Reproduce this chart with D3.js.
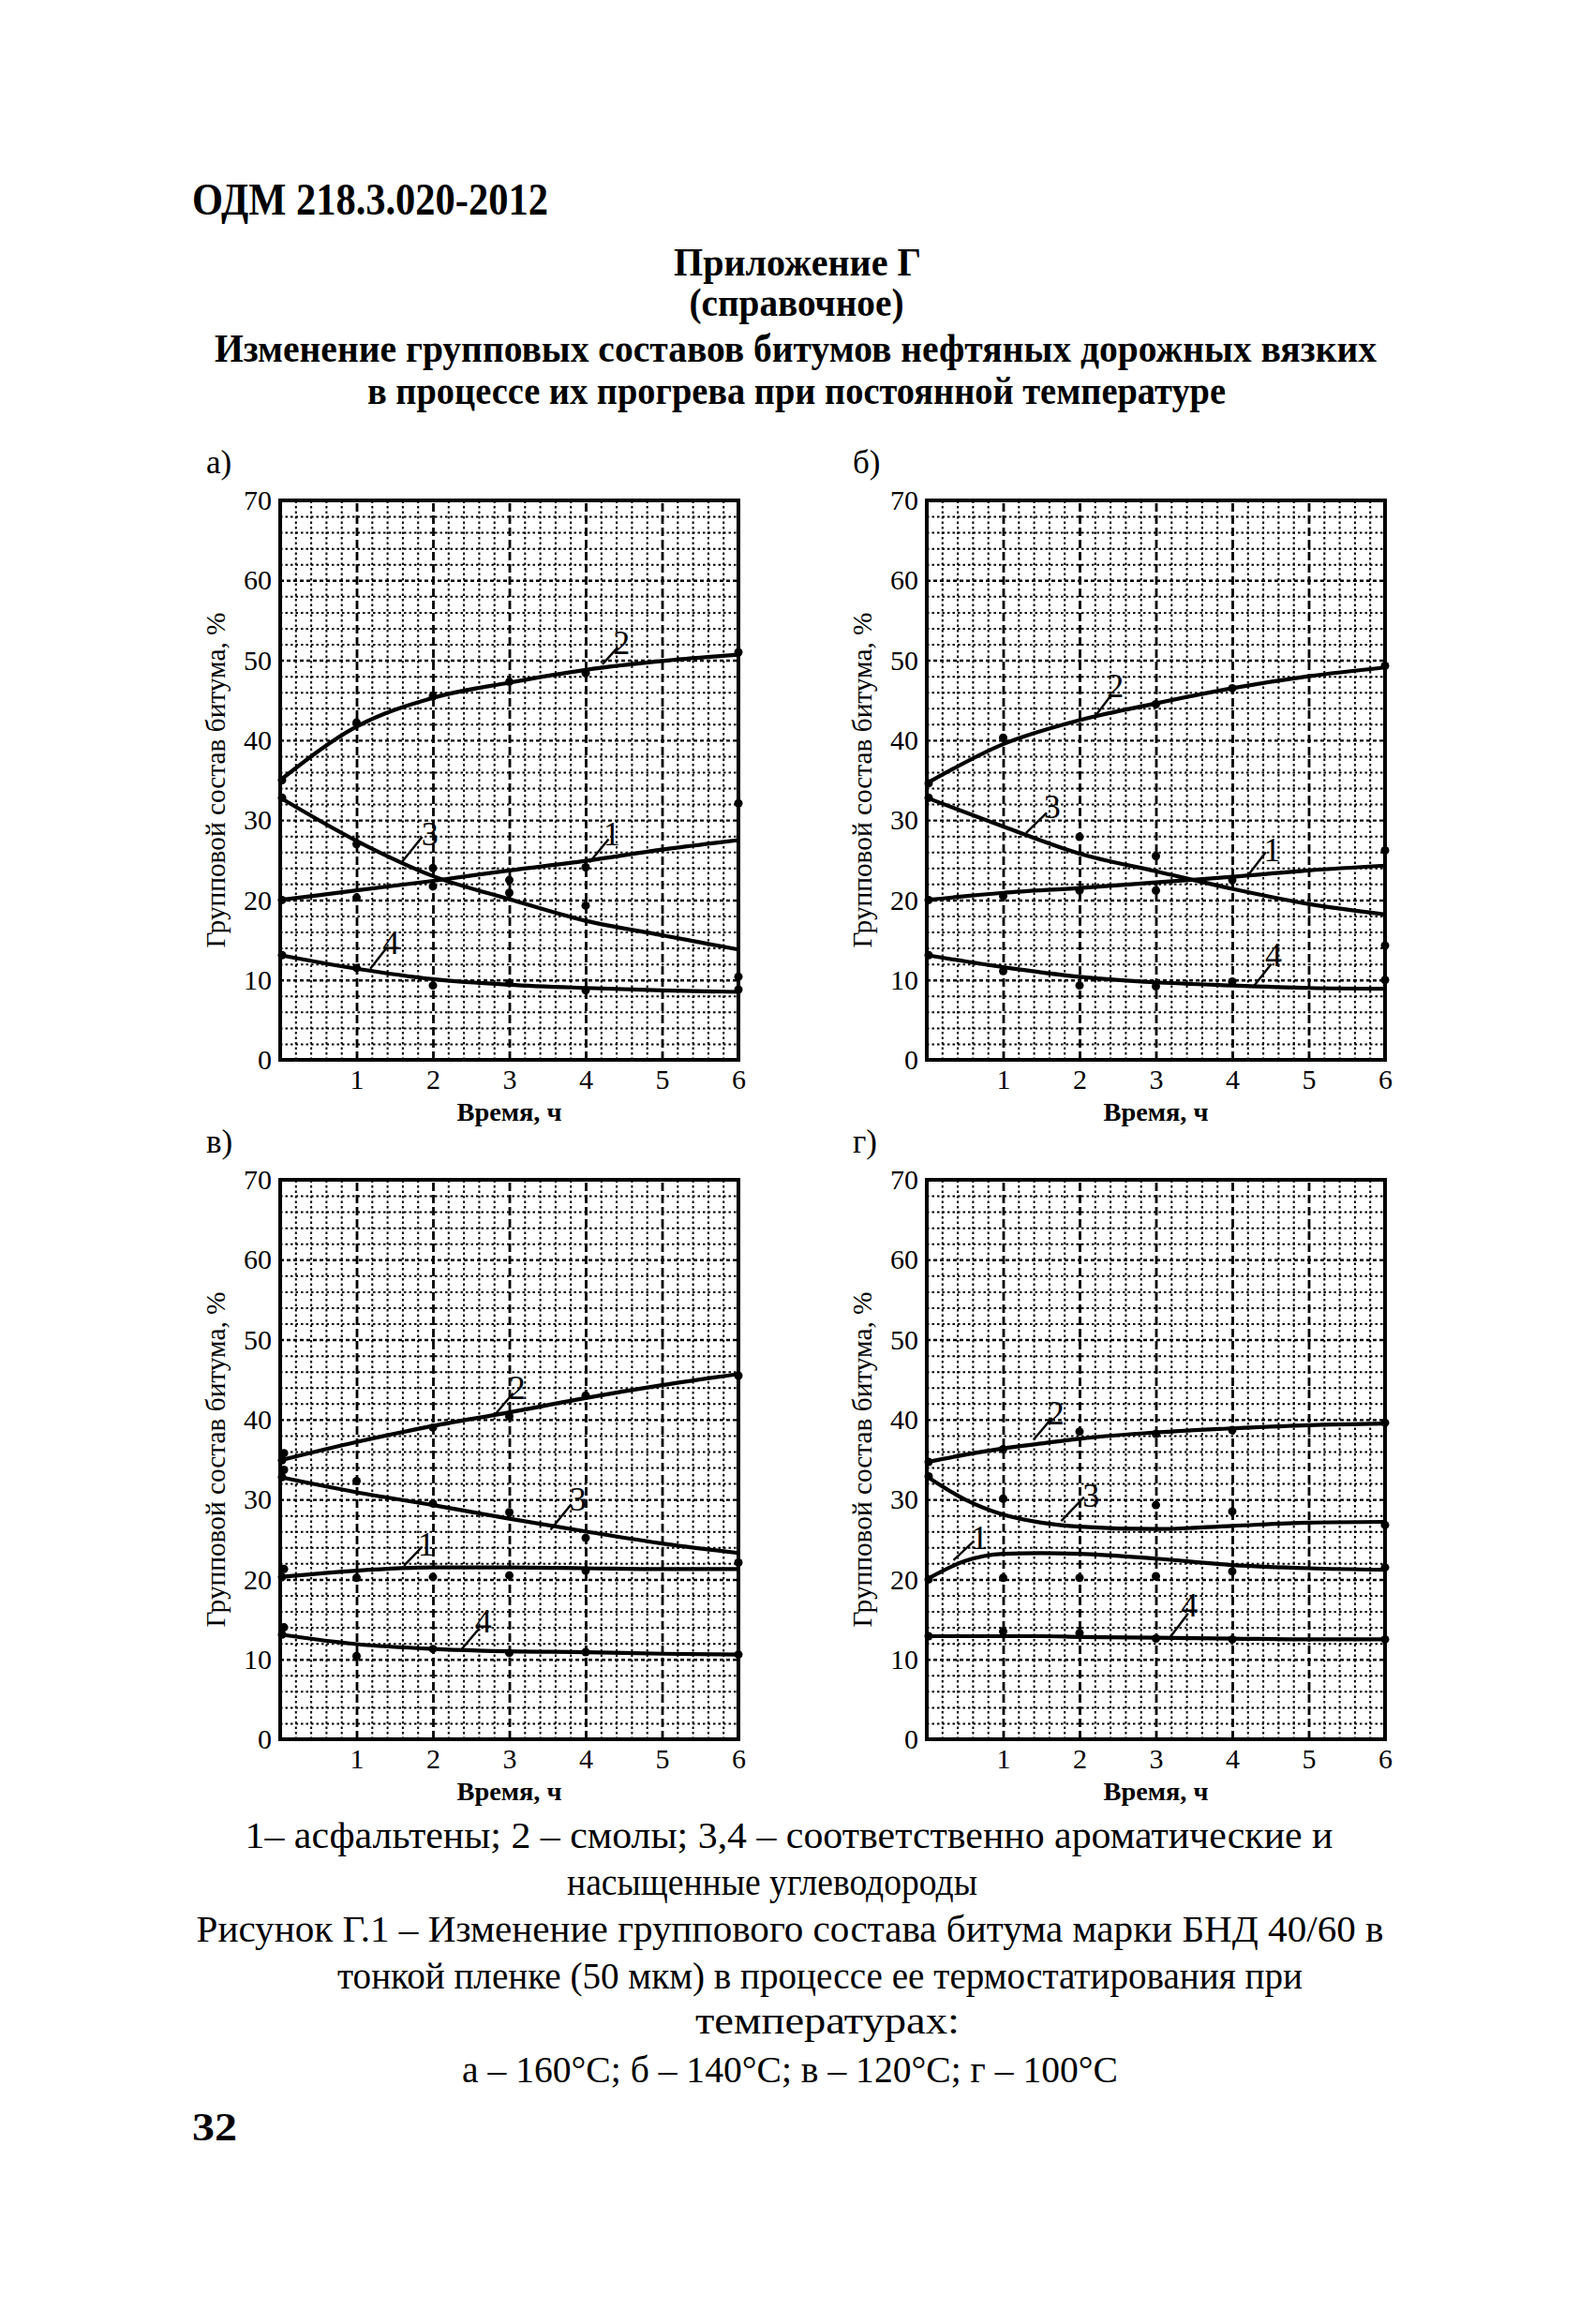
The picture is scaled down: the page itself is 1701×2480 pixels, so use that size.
<!DOCTYPE html>
<html>
<head>
<meta charset="utf-8">
<script src="https://cdn.jsdelivr.net/npm/d3@7/dist/d3.min.js"></script>
<style>
  body { margin: 0; background: #fff; }
  svg { display: block; }
  text { font-family: "Liberation Serif", "DejaVu Serif", serif; fill: #000; }
</style>
</head>
<body>
<svg id="page"></svg>
<script>
// ---- data ----
const hours = [0, 1, 2, 3, 4, 5, 6];
const hoursG = [0, 0.5, 1, 1.5, 2, 3, 4, 5, 6];
const yTicks = [0, 10, 20, 30, 40, 50, 60, 70];
const xTicks = [1, 2, 3, 4, 5, 6];

// a) 160°C
const a1 = [20.0, 21.2, 22.4, 23.7, 24.9, 26.3, 27.5];
const a2 = [35.0, 41.7, 45.3, 47.2, 48.8, 49.9, 50.7];
const a3 = [32.8, 27.4, 23.0, 20.1, 17.4, 15.6, 13.8];
const a4 = [13.1, 11.4, 10.1, 9.4, 9.0, 8.7, 8.5];
const aPts = [[1, 42.2], [1, 27], [1, 20.3], [1, 11.5], [2, 45.5], [2, 24], [2, 21.7], [2, 9.3],
  [3, 47.3], [3, 22.5], [3, 20.9], [3, 9.6], [4, 48.4], [4, 24.1], [4, 19.3], [4, 8.7],
  [6, 51], [6, 32.1], [6, 10.4], [6, 8.8]];
const aLabels = [["2", 4.47, 52.2, 4.22, 49.5, 4.42, 51.6], ["3", 1.96, 28.2, 1.59, 24.7, 1.86, 27.9],
  ["1", 4.34, 28.2, 4.05, 24.7, 4.30, 27.6], ["4", 1.45, 14.7, 1.18, 11.4, 1.40, 14.1]];

// б) 140°C
const b1 = [20.0, 20.9, 21.5, 22.2, 22.9, 23.7, 24.3];
const b2 = [34.6, 39.5, 42.5, 44.6, 46.5, 48.0, 49.1];
const b3 = [32.8, 29.2, 25.8, 23.6, 21.4, 19.5, 18.2];
const b4 = [13.1, 11.6, 10.4, 9.7, 9.3, 9.0, 8.9];
const bPts = [[1, 40.3], [1, 20.5], [1, 11.1], [2, 27.9], [2, 21.2], [2, 9.3], [3, 44.5], [3, 25.5],
  [3, 21.2], [3, 9.2], [4, 46.5], [4, 22.5], [4, 9.8], [6, 49.3], [6, 26.2], [6, 14.3], [6, 10]];
const bLabels = [["2", 2.47, 46.8, 2.18, 42.7, 2.42, 45.7], ["3", 1.64, 31.7, 1.30, 28.4, 1.57, 30.9],
  ["1", 4.52, 26.3, 4.20, 23.0, 4.44, 26.0], ["4", 4.54, 13.1, 4.27, 9.1, 4.51, 12.0]];

// в) 120°C
const v1 = [20.3, 21.1, 21.5, 21.5, 21.4, 21.3, 21.3];
const v2 = [34.9, 37.2, 39.2, 40.9, 42.7, 44.3, 45.7];
const v3 = [32.8, 30.9, 29.3, 27.6, 26.0, 24.5, 23.3];
const v4 = [13.1, 11.9, 11.3, 11.0, 10.9, 10.7, 10.6];
const vPts = [[0.05, 35.8], [0.05, 33.7], [0.05, 21.3], [0.05, 14], [1, 32.3], [1, 20.2], [1, 10.4],
  [2, 39], [2, 29.5], [2, 20.3], [2, 11.3], [3, 40.4], [3, 28.4], [3, 20.5], [3, 10.8],
  [4, 43], [4, 25.2], [4, 21.1], [4, 10.9], [6, 45.5], [6, 22.1], [6, 10.6]];
const vLabels = [["2", 3.10, 44.0, 2.81, 40.6, 3.05, 43.3], ["3", 3.90, 30.0, 3.54, 26.2, 3.81, 29.4],
  ["1", 1.91, 24.4, 1.62, 21.7, 1.86, 24.1], ["4", 2.66, 14.8, 2.37, 11.2, 2.61, 13.9]];

// г) 100°C
const g1 = [20.0, 22.3, 23.2, 23.3, 23.2, 22.6, 21.8, 21.4, 21.2];
const g2 = [34.7, 35.6, 36.4, 37.0, 37.6, 38.4, 38.9, 39.3, 39.5];
const g3 = [32.9, 30.0, 28.1, 27.1, 26.6, 26.3, 26.7, 27.1, 27.2];
const g4 = [12.9, 12.9, 12.9, 12.9, 12.8, 12.7, 12.6, 12.5, 12.5];
const gPts = [[1, 36.3], [1, 30.1], [1, 20.2], [1, 13.5], [2, 38.5], [2, 20.2], [2, 13.3],
  [3, 38.2], [3, 29.3], [3, 20.4], [3, 12.6], [4, 38.7], [4, 28.5], [4, 21], [4, 12.5],
  [6, 39.6], [6, 26.8], [6, 21.5], [6, 12.5]];
const gLabels = [["2", 1.69, 40.8, 1.40, 37.5, 1.64, 40.2], ["3", 2.15, 30.5, 1.76, 27.3, 2.06, 30.3],
  ["1", 0.69, 25.2, 0.35, 22.4, 0.62, 24.8], ["4", 3.44, 16.8, 3.18, 12.7, 3.42, 15.7]];

// ---- page ----
const W = 1701, H = 2480;
const svg = d3.select("#page").attr("width", W).attr("height", H);
svg.append("rect").attr("width", W).attr("height", H).attr("fill", "#fff");

// one line of page text, squeezed to the width it has in the scan
function line(txt, x, y, size, len, opts = {}) {
  const t = svg.append("text")
    .attr("x", x).attr("y", y)
    .attr("font-size", size)
    .attr("font-weight", opts.bold ? "bold" : "normal")
    .attr("text-anchor", opts.anchor || "middle")
    .text(txt);
  if (len) t.attr("textLength", len).attr("lengthAdjust", "spacingAndGlyphs");
  return t;
}

line("ОДМ 218.3.020-2012", 205, 229, 48, 380, { bold: true, anchor: "start" });
line("Приложение Г", 851, 294, 42, 264, { bold: true });
line("(справочное)", 850, 337, 42, 229, { bold: true });
line("Изменение групповых  составов битумов нефтяных дорожных вязких", 849, 386, 42, 1240, { bold: true });
line("в процессе их прогрева при постоянной температуре", 850, 431, 42, 916, { bold: true });

// ---- panels ----
const PW = 489, PH = 597;
const panels = [
  { tag: "а)", left: 299, top: 534, hrs: hours, series: [a1, a2, a3, a4], pts: aPts, labels: aLabels },
  { tag: "б)", left: 989, top: 534, hrs: hours, series: [b1, b2, b3, b4], pts: bPts, labels: bLabels },
  { tag: "в)", left: 299, top: 1259, hrs: hours, series: [v1, v2, v3, v4], pts: vPts, labels: vLabels },
  { tag: "г)", left: 989, top: 1259, hrs: hoursG, series: [g1, g2, g3, g4], pts: gPts, labels: gLabels },
];

const x = d3.scaleLinear().domain([0, 6]).range([0, PW]);
const y = d3.scaleLinear().domain([0, 70]).range([PH, 0]);
const minorX = d3.range(1, 30).map((k) => +(k * 0.2).toFixed(1)).filter((t) => t % 1 !== 0);
const minorY = d3.range(1, 35).map((k) => k * 2).filter((v) => v % 10 !== 0);

function gridLines(sel, w, dash) {
  sel.call((s) => s.select(".domain").remove())
    .selectAll("line").attr("stroke", "#000").attr("stroke-width", w).attr("stroke-dasharray", dash);
}

panels.forEach((p) => {
  const g = svg.append("g").attr("transform", `translate(${p.left},${p.top})`);

  // panel tag
  g.append("text").attr("x", -79).attr("y", -29).attr("font-size", 35).text(p.tag);

  // grid, minor dotted every 0.2 h and 2 %
  gridLines(g.append("g").attr("transform", `translate(0,${PH})`)
    .call(d3.axisBottom(x).tickValues(minorX).tickSize(-PH).tickFormat("")), 2, "2.5,3");
  gridLines(g.append("g")
    .call(d3.axisLeft(y).tickValues(minorY).tickSize(-PW).tickFormat("")), 2, "2.5,3");
  // grid, major dashed every hour and 10 %
  gridLines(g.append("g").attr("transform", `translate(0,${PH})`)
    .call(d3.axisBottom(x).tickValues([1, 2, 3, 4, 5]).tickSize(-PH).tickFormat("")), 2.8, "9,4");
  gridLines(g.append("g")
    .call(d3.axisLeft(y).tickValues([10, 20, 30, 40, 50, 60]).tickSize(-PW).tickFormat("")), 2.4, "4,3");

  // frame
  g.append("rect").attr("width", PW).attr("height", PH)
    .attr("fill", "none").attr("stroke", "#000").attr("stroke-width", 4);

  // tick labels
  const ya = g.append("g").call(d3.axisLeft(y).tickValues(yTicks).tickFormat(d3.format("d"))
    .tickSize(0).tickPadding(9));
  ya.select(".domain").remove();
  ya.selectAll("text").attr("font-size", 30).attr("font-family", "Liberation Serif").attr("fill", "#000");
  const xa = g.append("g").attr("transform", `translate(0,${PH})`)
    .call(d3.axisBottom(x).tickValues(xTicks).tickFormat(d3.format("d")).tickSize(0).tickPadding(10));
  xa.select(".domain").remove();
  xa.selectAll("text").attr("font-size", 30).attr("font-family", "Liberation Serif").attr("fill", "#000");

  // axis titles
  g.append("text")
    .attr("transform", `translate(-59,${PH / 2}) rotate(-90)`)
    .attr("text-anchor", "middle").attr("font-size", 30)
    .attr("textLength", 358).attr("lengthAdjust", "spacingAndGlyphs")
    .text("Групповой состав битума, %");
  g.append("text")
    .attr("x", PW / 2).attr("y", PH + 65)
    .attr("text-anchor", "middle").attr("font-size", 27).attr("font-weight", "bold")
    .attr("textLength", 112).attr("lengthAdjust", "spacingAndGlyphs")
    .text("Время, ч");

  // curves
  const lineGen = d3.line().x((d) => x(d[0])).y((d) => y(d[1])).curve(d3.curveMonotoneX);
  p.series.forEach((s) => {
    g.append("path")
      .datum(s.map((v, i) => [p.hrs[i], v]))
      .attr("fill", "none").attr("stroke", "#000").attr("stroke-width", 4.2)
      .attr("d", lineGen);
  });

  // measured points
  g.selectAll(".pt").data(p.pts).enter().append("circle")
    .attr("cx", (d) => x(d[0])).attr("cy", (d) => y(d[1]))
    .attr("r", 4.5).attr("fill", "#000");
  p.series.forEach((s) => {
    g.append("circle").attr("cx", x(0) + 2).attr("cy", y(s[0])).attr("r", 4.5).attr("fill", "#000");
  });

  // curve numbers with leaders
  p.labels.forEach((l) => {
    g.append("line")
      .attr("x1", x(l[3])).attr("y1", y(l[4])).attr("x2", x(l[5])).attr("y2", y(l[6]))
      .attr("stroke", "#000").attr("stroke-width", 2.4);
    g.append("text")
      .attr("x", x(l[1])).attr("y", y(l[2]) + 12)
      .attr("text-anchor", "middle").attr("font-size", 36)
      .text(l[0]);
  });
});

// ---- caption ----
line("1– асфальтены; 2 – смолы; 3,4 – соответственно ароматические и", 842, 1972, 41, 1161);
line("насыщенные углеводороды", 824, 2022, 41, 438);
line("Рисунок Г.1 – Изменение группового состава битума марки БНД 40/60 в", 843, 2072, 41, 1267);
line("тонкой пленке (50 мкм) в процессе ее термостатирования при", 875, 2122, 41, 1030);
line("температурах:", 883, 2170, 41, 282);
line("а – 160°С; б – 140°С; в – 120°С; г – 100°С", 843, 2222, 41, 700);
line("32", 205, 2284, 42, 48, { bold: true, anchor: "start" });
</script>
</body>
</html>
